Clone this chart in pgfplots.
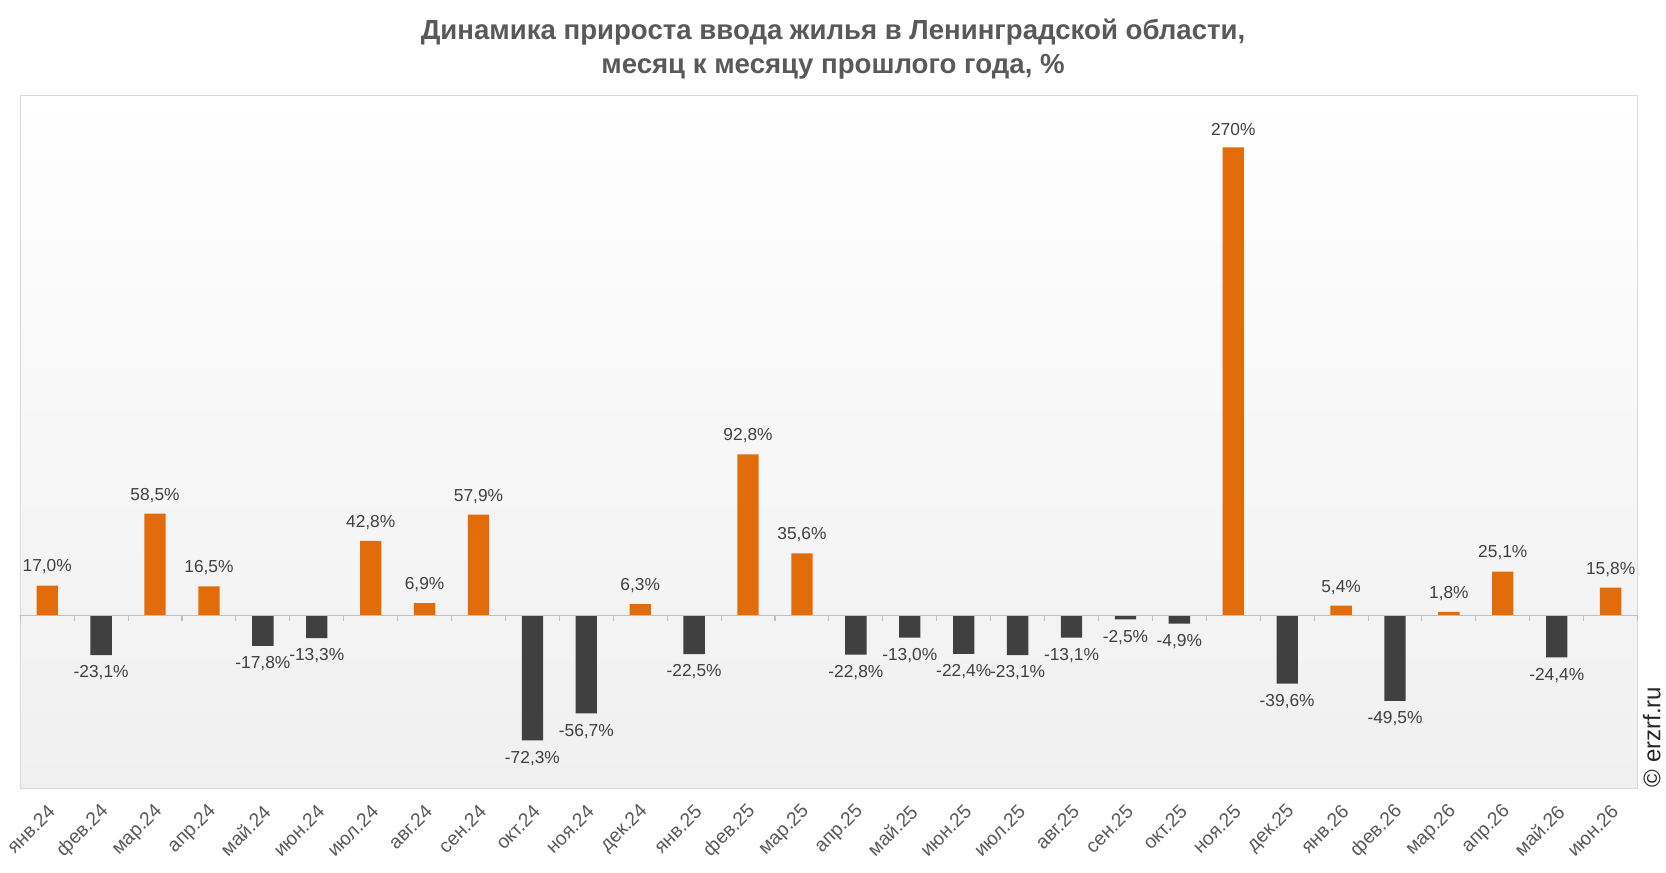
\documentclass[border=0pt]{standalone}
\usepackage{pgfplots}
\pgfplotsset{compat=1.18}
\usepackage{pgfplotstable}
\usepackage{fontspec}
\setmainfont{Liberation Sans}
\definecolor{barorange}{HTML}{E36C0A}
\definecolor{bargray}{HTML}{404040}
\definecolor{txtgray}{HTML}{595959}
\definecolor{lblgray}{HTML}{404040}
\definecolor{framegray}{HTML}{D9D9D9}
\definecolor{bgbot}{HTML}{F0F0F0}

\pgfplotstableread{
x y lab
0 17.0 17,0
2 58.5 58,5
3 16.5 16,5
6 42.8 42,8
7 6.9 6,9
8 57.9 57,9
11 6.3 6,3
13 92.8 92,8
14 35.6 35,6
22 270 270
24 5.4 5,4
26 1.8 1,8
27 25.1 25,1
29 15.8 15,8
}\pos

\pgfplotstableread{
x y lab
1 -23.1 -23,1
4 -17.8 -17,8
5 -13.3 -13,3
9 -72.3 -72,3
10 -56.7 -56,7
12 -22.5 -22,5
15 -22.8 -22,8
16 -13.0 -13,0
17 -22.4 -22,4
18 -23.1 -23,1
19 -13.1 -13,1
20 -2.5 -2,5
21 -4.9 -4,9
23 -39.6 -39,6
25 -49.5 -49,5
28 -24.4 -24,4
}\neg

\begin{document}
\begin{tikzpicture}
\begin{axis}[
  at={(15.2pt,62.8pt)}, anchor=south west,
  scale only axis, width=1213pt, height=519.7pt,
  xmin=-0.5, xmax=29.5, ymin=-100, ymax=300,
  axis line style={draw=framegray, line width=0.8pt},
  axis background/.style={top color=white, bottom color=bgbot, middle color=white!45!bgbot},
  ytick=\empty,
  xtick={0,...,29},
  xticklabels={янв.24,фев.24,мар.24,апр.24,май.24,июн.24,июл.24,авг.24,сен.24,окт.24,ноя.24,дек.24,янв.25,фев.25,мар.25,апр.25,май.25,июн.25,июл.25,авг.25,сен.25,окт.25,ноя.25,дек.25,янв.26,фев.26,мар.26,апр.26,май.26,июн.26},
  major tick length=0pt,
  xticklabel style={rotate=45, anchor=east, font=\fontsize{14.5}{16}\selectfont, text=txtgray, yshift=-13pt, xshift=-5pt},
  ybar, bar width=16pt, bar shift=0pt,
  point meta=explicit symbolic,
  nodes near coords={\pgfplotspointmeta\%},
  every node near coord/.append style={font=\fontsize{13}{15}\selectfont, text=lblgray},
  clip=false,
]
\addplot[fill=barorange, draw=none, every node near coord/.append style={anchor=south, yshift=5pt}] table[x=x, y=y, meta=lab] {\pos};
\addplot[fill=bargray, draw=none, every node near coord/.append style={anchor=north, yshift=-4.5pt}] table[x=x, y=y, meta=lab] {\neg};
\draw[color=black!25, line width=0.8pt] (axis cs:-0.5,0) -- (axis cs:29.5,0);
\pgfplotsinvokeforeach{0,...,30}{
  \draw[color=black!25, line width=0.8pt] (axis cs:#1-0.5,0) -- ++(0pt,-4.5pt);
}
\end{axis}
\node[anchor=base, font=\bfseries\fontsize{20.7}{24}\selectfont, text=txtgray] at (624.75pt,624pt) {Динамика прироста ввода жилья в Ленинградской области,};
\node[anchor=base, font=\bfseries\fontsize{20.7}{24}\selectfont, text=txtgray] at (624.75pt,598.5pt) {месяц к месяцу прошлого года, \%};
\node[rotate=90, font=\fontsize{18}{21}\selectfont, text=black!85] at (1238.8pt,101.3pt) {© erzrf.ru};
\pgfresetboundingbox
\useasboundingbox (0,0) rectangle (1249.5pt,654pt);
\end{tikzpicture}
\end{document}
